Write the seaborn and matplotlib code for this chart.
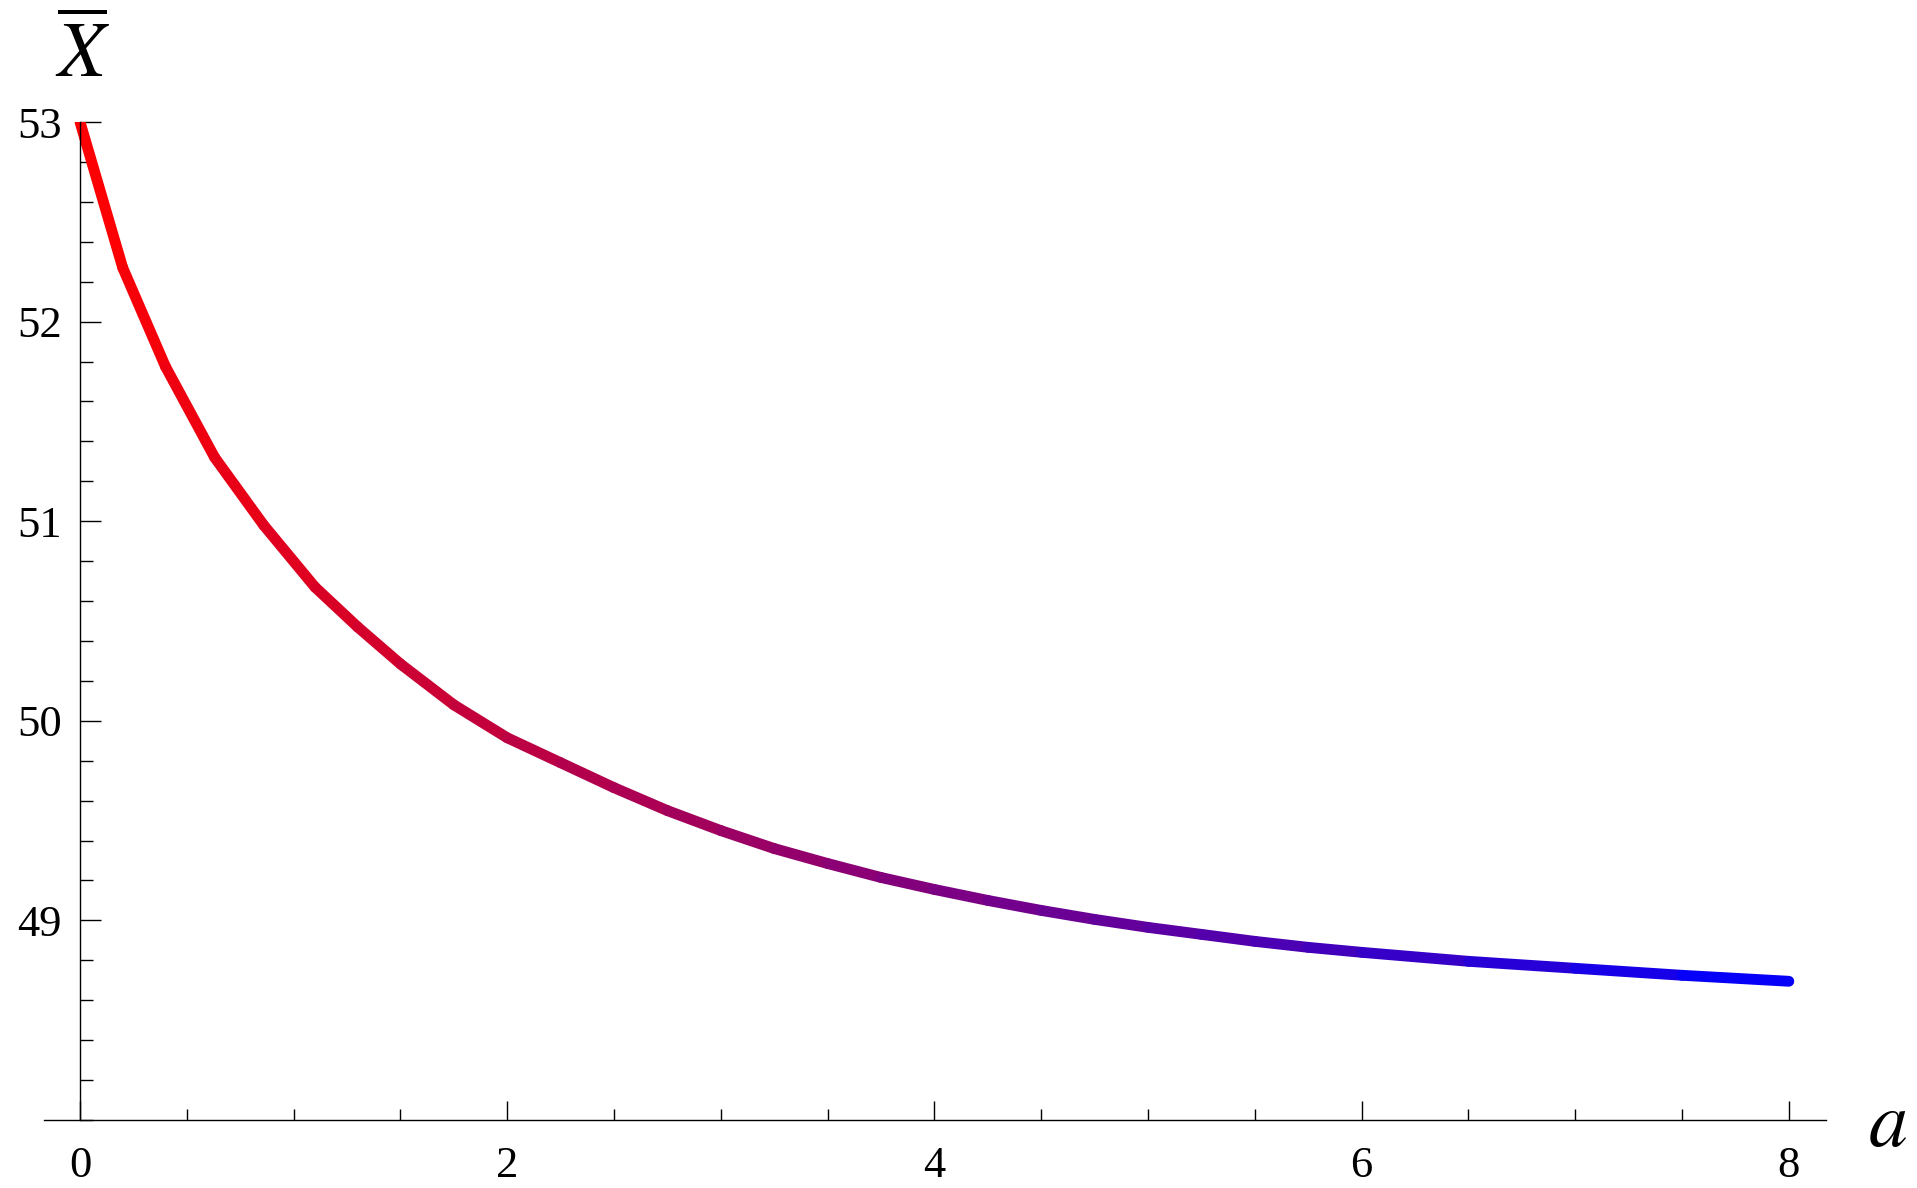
import matplotlib
matplotlib.use('Agg')
import matplotlib.pyplot as plt
import numpy as np
import pandas as pd
import seaborn as sns
from matplotlib.colors import LinearSegmentedColormap
from matplotlib.ticker import MultipleLocator

# values
a_vals = [0.0, 0.2, 0.4, 0.63, 0.86, 1.1, 1.3, 1.5, 1.75, 2.0, 2.25, 2.5, 2.75,
          3.0, 3.25, 3.5, 3.75, 4.0, 4.25, 4.5, 4.75, 5.0, 5.25, 5.5, 5.75,
          6.0, 6.5, 7.0, 7.5, 8.0]
xbar_vals = [53.00, 52.27, 51.775, 51.32, 50.98, 50.67, 50.47, 50.285, 50.08,
             49.915, 49.79, 49.665, 49.55, 49.45, 49.36, 49.285, 49.215, 49.155,
             49.10, 49.05, 49.005, 48.965, 48.93, 48.895, 48.865, 48.84, 48.795,
             48.76, 48.725, 48.695]
x_ticks = [0, 2, 4, 6, 8]
y_ticks = [49, 50, 51, 52, 53]

sns.set_style('white')
plt.rcParams['font.family'] = ['Liberation Serif', 'DejaVu Serif']
plt.rcParams['mathtext.fontset'] = 'stix'
plt.rcParams['text.color'] = 'black'

# one short line per segment so the colour can run from red to blue
rows = []
for i in range(len(a_vals) - 1):
    mid = (a_vals[i] + a_vals[i + 1]) / 2
    rows.append({'a': a_vals[i], 'xbar': xbar_vals[i], 'seg': mid})
    rows.append({'a': a_vals[i + 1], 'xbar': xbar_vals[i + 1], 'seg': mid})
df = pd.DataFrame(rows)

cmap = LinearSegmentedColormap.from_list('rb', ['#ff0000', '#0000ff'])

fig = plt.figure(figsize=(19.17, 11.88), dpi=100)
ax = fig.add_axes([44 / 1917, 68 / 1188, 1782 / 1917, 998 / 1188])

sns.lineplot(data=df, x='a', y='xbar', hue='seg', palette=cmap, hue_norm=(0, 8),
             estimator=None, sort=False, legend=False, linewidth=7.8,
             solid_capstyle='round', ax=ax)

ax.set_xlim(-0.1685, 8.174)
ax.set_ylim(48, 53)

ax.spines['top'].set_visible(False)
ax.spines['right'].set_visible(False)
ax.spines['left'].set_position(('data', 0))
for s in ['left', 'bottom']:
    ax.spines[s].set_linewidth(1.0)
    ax.spines[s].set_color('black')

ax.set_xticks(x_ticks)
ax.set_yticks(y_ticks)
ax.xaxis.set_minor_locator(MultipleLocator(0.5))
ax.yaxis.set_minor_locator(MultipleLocator(0.2))
ax.tick_params(which='both', bottom=True, left=True, top=False, right=False,
               direction='in', width=1.0, color='black')
ax.tick_params(axis='x', which='major', length=13.7, pad=19, labelsize=32,
               labelcolor='black')
ax.tick_params(axis='x', which='minor', length=8)
ax.tick_params(axis='y', which='major', length=15, pad=13, labelsize=32,
               labelcolor='black')
ax.tick_params(axis='y', which='minor', length=9)

ax.set_xlabel('')
ax.set_ylabel('')
ax.annotate(r'$\overline{X}$', xy=(0, 53), xycoords='data', xytext=(2, 20),
            textcoords='offset points', ha='center', va='bottom', fontsize=56,
            color='black', annotation_clip=False)
ax.annotate(r'$a$', xy=(1, 0), xycoords='axes fraction', xytext=(44, -5),
            textcoords='offset points', ha='center', va='center', fontsize=56,
            color='black', annotation_clip=False)

fig.savefig('out.png', dpi=100)
